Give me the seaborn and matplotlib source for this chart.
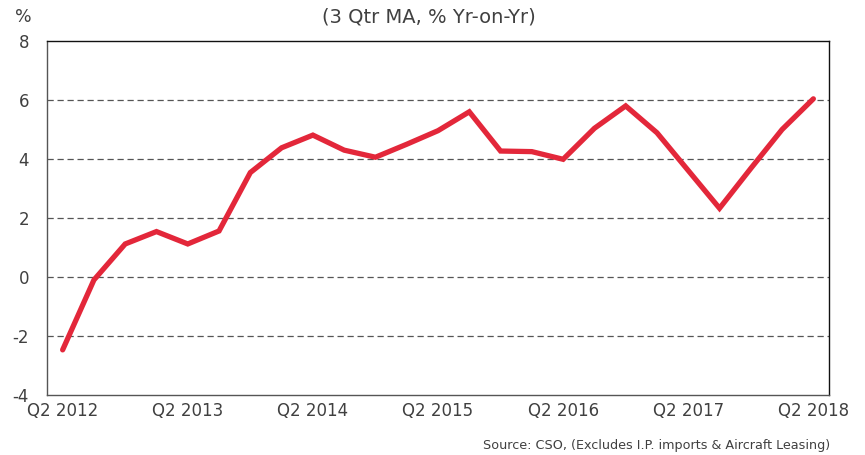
import numpy as np
import pandas as pd
import matplotlib
matplotlib.use("Agg")
import matplotlib.pyplot as plt
import seaborn as sns

# quarterly data, Q2 2012 .. Q2 2018
quarters = [f"Q{q} {y}" for y in range(2012, 2019) for q in range(1, 5)][1:26]
growth = [-2.47, -0.1, 1.12, 1.54, 1.12, 1.56, 3.54, 4.38, 4.81, 4.3, 4.06, 4.5, 4.96,
          5.6, 4.27, 4.25, 3.99, 5.04, 5.8, 4.89, 3.61, 2.33, 3.68, 5.0, 6.04]
yticks = [-4, -2, 0, 2, 4, 6, 8]

df = pd.DataFrame({"quarter": quarters, "pos": range(len(quarters)), "growth": growth})

sns.set_theme(style="white")
plt.rcParams["font.family"] = ["DejaVu Sans"]
txt = "#404040"

fig = plt.figure(figsize=(8.65, 4.55), dpi=100)
ax = fig.add_axes([47 / 865, 60 / 455, 782 / 865, 354 / 455])

sns.lineplot(data=df, x="pos", y="growth", color="#E3273A", linewidth=3.8, ax=ax,
             solid_capstyle="round", solid_joinstyle="miter")

ax.set_xlim(-0.5, len(quarters) - 0.5)
ax.set_ylim(-4, 8)
ax.set_yticks(yticks)
ax.set_yticklabels([str(v) for v in yticks], color=txt, fontsize=12)
ax.tick_params(axis="y", length=0, pad=13)

# tick marks between categories, labels on yearly Q2 points
ax.set_xticks(np.arange(-0.5, len(quarters) - 1, 4))
ax.set_xticklabels([])
ax.set_xticks(np.arange(0, len(quarters), 4), minor=True)
ax.set_xticklabels(quarters[::4], minor=True, color=txt, fontsize=12)
ax.tick_params(axis="x", which="major", direction="inout", length=8, width=1, color="#555555")
ax.tick_params(axis="x", which="minor", length=0, pad=5)
ax.set_xlabel("")
ax.set_ylabel("")

for v in yticks[1:-1]:
    ax.axhline(v, color="#555555", linestyle=(0, (5, 3)), linewidth=0.9, zorder=0)

for s in ["left", "bottom"]:
    ax.spines[s].set_color("#555555")
    ax.spines[s].set_linewidth(1)
for s in ["top", "right"]:
    ax.spines[s].set_color("#111111")
    ax.spines[s].set_linewidth(1)

fig.text(23 / 865, 1 - 17 / 455, "%", ha="center", va="center", color=txt, fontsize=12.5)
fig.text(429 / 865, 1 - 17 / 455, "(3 Qtr MA, % Yr-on-Yr)", ha="center", va="center",
         color=txt, fontsize=14)
fig.text(830 / 865, 1 - 446 / 455, "Source: CSO, (Excludes I.P. imports & Aircraft Leasing)",
         ha="right", va="center", color=txt, fontsize=9.2)

fig.savefig("out.png", dpi=100)
